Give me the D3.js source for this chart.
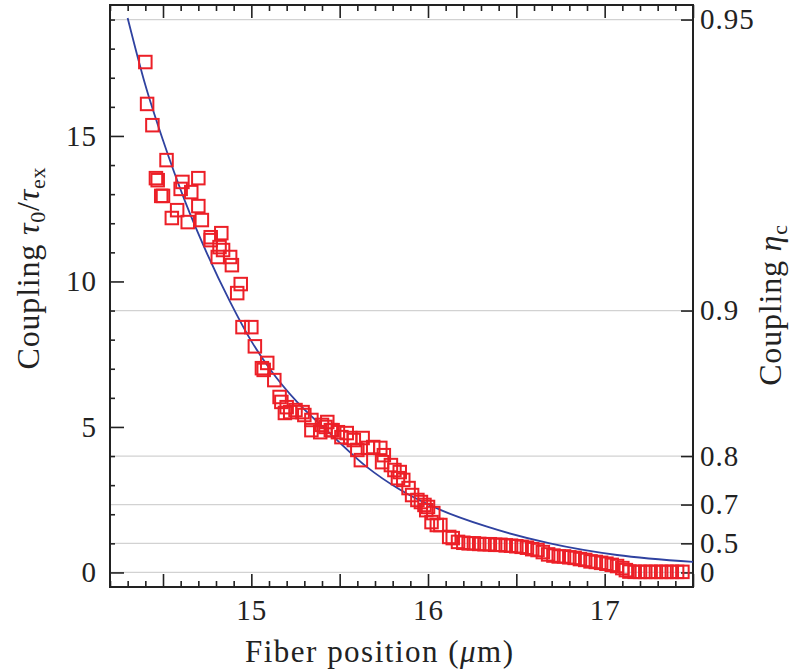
<!DOCTYPE html>
<html>
<head>
<meta charset="utf-8">
<script src="https://cdn.jsdelivr.net/npm/d3@7"></script>
<style>
  body { margin: 0; background: #fff; }
  text { font-family: "Liberation Serif", serif; fill: #222; }
</style>
</head>
<body>
<svg id="chart" width="791" height="671"></svg>
<script>
// measured points: fiber position (um) and coupling tau0/tau_ex
const posX = [
  14.40, 14.41, 14.44, 14.52, 14.46, 14.47, 14.49, 14.50, 14.61, 14.70,
  14.60, 14.66, 14.70, 14.58, 14.55, 14.64, 14.72, 14.77, 14.83, 14.77,
  14.82, 14.84, 14.81, 14.88, 14.89, 14.94, 14.92, 14.95, 15.00, 15.02,
  15.06, 15.09, 15.07, 15.13, 15.16, 15.17, 15.20, 15.22, 15.19, 15.25,
  15.29, 15.30, 15.34, 15.34, 15.39, 15.40, 15.43, 15.45, 15.42, 15.46,
  15.49, 15.51, 15.54, 15.56, 15.58, 15.63, 15.66, 15.69, 15.73, 15.60,
  15.62, 15.75, 15.74, 15.79, 15.81, 15.84, 15.83, 15.86, 15.89, 15.91,
  15.94, 15.96, 15.98, 16.00, 15.99, 16.03, 16.02, 16.05, 16.07, 16.12,
  16.14, 16.17, 16.20, 16.23, 16.26, 16.29, 16.32, 16.35, 16.38, 16.41,
  16.44, 16.47, 16.50, 16.53, 16.56, 16.59, 16.62, 16.65, 16.68, 16.71,
  16.74, 16.77, 16.80, 16.83, 16.86, 16.89, 16.92, 16.95, 16.98, 17.01,
  17.04, 17.07, 17.10, 17.12, 17.14, 17.17, 17.20, 17.23, 17.26, 17.29,
  17.32, 17.35, 17.38, 17.41, 17.44
];
const coupling = [
  17.54, 16.10, 15.37, 14.17, 13.55, 13.48, 12.94, 12.94, 13.42, 13.55,
  13.18, 13.07, 12.59, 12.45, 12.18, 12.04, 12.11, 11.52, 11.66, 11.42,
  11.18, 11.08, 10.84, 10.84, 10.56, 9.91, 9.60, 8.43, 8.43, 7.77,
  7.02, 7.20, 6.96, 6.61, 6.03, 5.86, 5.68, 5.51, 5.48, 5.58,
  5.51, 5.41, 5.24, 4.89, 4.82, 5.07, 5.17, 4.89, 5.00, 4.89,
  4.82, 4.65, 4.79, 4.62, 4.55, 4.62, 4.28, 4.31, 4.28, 4.21,
  3.86, 4.03, 3.79, 3.69, 3.52, 3.45, 3.24, 3.18, 2.90, 2.66,
  2.49, 2.42, 2.32, 2.25, 2.14, 2.04, 1.73, 1.63, 1.63, 1.22,
  1.18, 1.05, 1.02, 1.00, 1.00, 0.98, 0.97, 0.97, 0.95, 0.95,
  0.93, 0.92, 0.90, 0.88, 0.85, 0.80, 0.77, 0.70, 0.62, 0.58,
  0.55, 0.55, 0.52, 0.50, 0.46, 0.43, 0.38, 0.36, 0.33, 0.30,
  0.26, 0.22, 0.15, 0.08, 0.03, 0.02, 0.02, 0.02, 0.02, 0.02,
  0.02, 0.02, 0.02, 0.02, 0.02
];
// fitted curve
const fitX = [14.30, 14.40, 14.50, 14.625, 14.75, 14.88, 15.00, 15.11, 15.26, 15.445,
  15.655, 15.84, 16.07, 16.33, 16.69, 17.07, 17.50];
const fitY = [19.05, 16.75, 14.85, 12.75, 10.95, 9.3, 7.95, 6.95, 5.85, 4.78,
  3.62, 2.85, 2.15, 1.58, 1.0, 0.6, 0.36];
const etaTicks = [0.95, 0.9, 0.8, 0.7, 0.5, 0];
const xLabels = [15, 16, 17];
const yLabels = [0, 5, 10, 15];

const [width, height] = [791, 671];
const margin = { top: 5, right: 98, bottom: 84, left: 110 };
const svg = d3.select('#chart');

const x = d3.scaleLinear([14.2, 17.5], [margin.left, width - margin.right]);
const y = d3.scaleLinear([-0.5, 19.5], [height - margin.bottom, margin.top]);
const etaToK = (e) => e / (1 - e);

// grid lines at the efficiency ticks
svg.append('g')
  .selectAll('line')
  .data(etaTicks)
  .enter()
  .append('line')
  .attr('x1', x.range()[0])
  .attr('x2', x.range()[1])
  .attr('y1', (e) => y(etaToK(e)))
  .attr('y2', (e) => y(etaToK(e)))
  .attr('stroke', '#d2d2d2')
  .attr('stroke-width', 1.2);

const xMajor = d3.range(29, 36).map((d) => d / 2);
const xMinor = d3.range(142, 175).map((d) => d / 10).filter((d) => Math.round(d * 10) % 5 !== 0);
const yMinor = d3.range(0, 20).filter((d) => d % 5 !== 0);

const fmtX = (d) => (xLabels.includes(d) ? d : '');
const clean = (g) => g.call((s) => s.select('.domain').remove());

// bottom / top
svg.append('g').attr('transform', `translate(0,${y.range()[0]})`)
  .call(d3.axisBottom(x).tickValues(xMajor).tickSize(-13).tickPadding(12).tickFormat(fmtX)).call(clean);
svg.append('g').attr('transform', `translate(0,${y.range()[0]})`)
  .call(d3.axisBottom(x).tickValues(xMinor).tickSize(-6).tickFormat('')).call(clean);
svg.append('g').attr('transform', `translate(0,${y.range()[1]})`)
  .call(d3.axisTop(x).tickValues(xMajor).tickSize(-13).tickFormat('')).call(clean);
svg.append('g').attr('transform', `translate(0,${y.range()[1]})`)
  .call(d3.axisTop(x).tickValues(xMinor).tickSize(-6).tickFormat('')).call(clean);

// left
svg.append('g').attr('transform', `translate(${x.range()[0]},0)`)
  .call(d3.axisLeft(y).tickValues(yLabels).tickSize(-14).tickPadding(13)).call(clean);
svg.append('g').attr('transform', `translate(${x.range()[0]},0)`)
  .call(d3.axisLeft(y).tickValues(yMinor).tickSize(-5).tickFormat('')).call(clean);

// right, efficiency eta_c
svg.append('g').attr('transform', `translate(${x.range()[1]},0)`)
  .call(d3.axisRight(y).tickValues(etaTicks.map(etaToK)).tickSize(-12).tickPadding(7)
    .tickFormat((k) => etaTicks.find((e) => Math.abs(etaToK(e) - k) < 1e-9)))
  .call(clean);

svg.selectAll('.tick line').attr('stroke', '#222').attr('stroke-width', 1.6);
svg.selectAll('.tick text').attr('font-size', 29).attr('fill', '#222')
  .attr('letter-spacing', 1)
  .style('font-family', '"Liberation Serif", serif');

// frame
svg.append('rect')
  .attr('x', x.range()[0]).attr('y', y.range()[1])
  .attr('width', x.range()[1] - x.range()[0])
  .attr('height', y.range()[0] - y.range()[1])
  .attr('fill', 'none').attr('stroke', '#222').attr('stroke-width', 2);

// fitted curve
const plot = svg.append('g');
plot.append('path')
  .datum(fitX.map((v, i) => [v, fitY[i]]))
  .attr('fill', 'none')
  .attr('stroke', '#2f42a0')
  .attr('stroke-width', 1.8)
  .attr('d', d3.line().x((d) => x(d[0])).y((d) => y(d[1])).curve(d3.curveMonotoneX));

// data squares
const s = 12.5;
plot.selectAll('rect.pt')
  .data(posX.map((v, i) => [v, coupling[i]]))
  .enter()
  .append('rect')
  .attr('class', 'pt')
  .attr('x', (d) => x(d[0]) - s / 2)
  .attr('y', (d) => y(d[1]) - s / 2)
  .attr('width', s)
  .attr('height', s)
  .attr('fill', 'none')
  .attr('stroke', '#ec1f27')
  .attr('stroke-width', 2);

// titles
const bottom = svg.append('text')
  .attr('x', 379)
  .attr('y', 662)
  .attr('text-anchor', 'middle')
  .attr('font-size', 31)
  .attr('textLength', 268)
  .attr('lengthAdjust', 'spacing');
bottom.append('tspan').text('Fiber position (');
bottom.append('tspan').attr('font-style', 'italic').text('μ');
bottom.append('tspan').text('m)');

const left = svg.append('text')
  .attr('transform', 'translate(39,268) rotate(-90)')
  .attr('text-anchor', 'middle')
  .attr('font-size', 32)
  .attr('letter-spacing', 0.8);
left.append('tspan').text('Coupling ');
left.append('tspan').attr('font-style', 'italic').text('τ');
left.append('tspan').attr('font-size', 22).attr('dy', 6).text('0');
left.append('tspan').attr('dy', -6).text('/');
left.append('tspan').attr('font-style', 'italic').text('τ');
left.append('tspan').attr('font-size', 22).attr('dy', 6).text('ex');

const right = svg.append('text')
  .attr('transform', 'translate(781,305) rotate(-90)')
  .attr('text-anchor', 'middle')
  .attr('font-size', 32)
  .attr('letter-spacing', 0.8);
right.append('tspan').text('Coupling ');
right.append('tspan').attr('font-style', 'italic').text('η');
right.append('tspan').attr('font-size', 22).attr('dy', 6).text('c');
</script>
</body>
</html>
